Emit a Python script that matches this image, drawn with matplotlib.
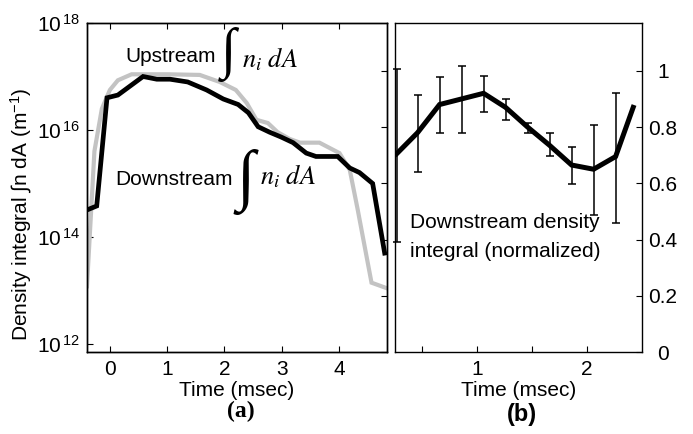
import matplotlib
matplotlib.use("Agg")
import matplotlib.pyplot as plt
import numpy as np

plt.rcParams["font.family"] = ["Liberation Sans", "DejaVu Sans"]
plt.rcParams["mathtext.fontset"] = "custom"
plt.rcParams["mathtext.rm"] = "Liberation Sans"
plt.rcParams["mathtext.it"] = "Liberation Sans:italic"
plt.rcParams["font.size"] = 15

# (a) density integrals vs time, upstream and downstream probes
t_down = [-0.40, -0.23, -0.05, 0.14, 0.58, 0.82, 1.05, 1.36, 1.69, 1.98, 2.24, 2.42,
          2.59, 2.79, 2.99, 3.20, 3.43, 3.60, 3.98, 4.19, 4.36, 4.59, 4.80]
n_down = [3.2e14, 3.8e14, 4.0e16, 4.5e16, 1.0e17, 8.9e16, 8.9e16, 7.9e16, 5.6e16, 3.8e16,
          3.0e16, 2.1e16, 1.15e16, 9.1e15, 7.4e15, 5.8e15, 3.7e15, 3.2e15, 3.2e15, 1.95e15,
          1.6e15, 1.0e15, 5.0e13]
t_up = [-0.40, -0.27, -0.14, 0.00, 0.14, 0.38, 0.58, 1.00, 1.57, 1.92, 2.20, 2.39,
        2.56, 2.76, 2.93, 3.14, 3.32, 3.66, 4.01, 4.19, 4.33, 4.57, 4.84]
n_up = [1.2e13, 4.0e15, 2.5e16, 5.6e16, 8.5e16, 1.1e17, 1.1e17, 1.1e17, 1.07e17, 7.9e16,
        5.6e16, 3.2e16, 1.55e16, 1.35e16, 9.1e15, 6.8e15, 5.8e15, 5.8e15, 3.7e15, 1.8e15,
        3.2e14, 1.4e13, 1.1e13]

# (b) normalized downstream integral with spread
t_norm = [0.27, 0.46, 0.66, 0.86, 1.06, 1.26, 1.46, 1.66, 1.86, 2.06, 2.26, 2.42]
n_norm = [0.705, 0.78, 0.88, 0.90, 0.92, 0.87, 0.80, 0.735, 0.665, 0.65, 0.695, 0.87]
n_norm_hi = [1.007, 0.915, 0.979, 1.018, 0.982, 0.900, 0.815, 0.779, 0.730, 0.808, 0.922]
n_norm_lo = [0.391, 0.640, 0.779, 0.779, 0.854, 0.826, 0.779, 0.698, 0.598, 0.488, 0.459]

fig = plt.figure(figsize=(6.93, 4.34), dpi=100)
ax_a = fig.add_axes([0.1255, 0.1889, 0.4329, 0.7581])
ax_b = fig.add_axes([0.570, 0.1889, 0.3564, 0.7581])

# ---- panel (a)
ax_a.plot(t_up, n_up, color="#c3c3c3", lw=3.0, solid_joinstyle="miter")
ax_a.plot(t_down, n_down, color="black", lw=3.4, solid_joinstyle="miter")
ax_a.set_yscale("log")
ax_a.set_xlim(-0.40, 4.84)
ax_a.set_ylim(10 ** 11.85, 1e18)
ax_a.set_yticks([1e12, 1e14, 1e16, 1e18])
ax_a.set_yticklabels([r"$10^{\,12}$", r"$10^{\,14}$", r"$10^{\,16}$", r"$10^{\,18}$"])
ax_a.yaxis.set_minor_locator(matplotlib.ticker.NullLocator())
ax_a.set_xticks([0, 1, 2, 3, 4])
ax_a.tick_params(direction="in", top=True, right=False, length=4, width=0.8, pad=5)
ax_a.tick_params(axis="x", pad=6)
ax_a.set_xlabel("Time (msec)", labelpad=1)
ax_a.set_ylabel(r"Density integral ∫n dA (m$^{-1}$)")
ax_a.yaxis.set_label_coords(-0.175, 0.42)

# right-hand ticks of (a) follow the linear 0..1 scale of (b)
ax_a2 = ax_a.twinx()
ax_a2.set_ylim(0, 1.17)
ax_a2.set_yticks(np.arange(0, 1.01, 0.2))
ax_a2.tick_params(direction="in", length=4, width=0.8, labelright=False)

for ax in (ax_a, ax_a2):
    for s in ax.spines.values():
        s.set_linewidth(1.0)

# in-plot labels: sans name + tall serif integral + italic serif symbols
ax_a.text(0.127, 0.881, "Upstream", transform=ax_a.transAxes, fontsize=15, va="baseline")
ax_a.text(0.473, 0.903, "∫", transform=ax_a.transAxes, fontsize=40,
          family=["Liberation Serif", "DejaVu Serif"], ha="center", va="center")
ax_a.text(0.517, 0.866, r"$n_i\ dA$", transform=ax_a.transAxes, fontsize=19,
          va="baseline", math_fontfamily="stix")

ax_a.text(0.093, 0.508, "Downstream", transform=ax_a.transAxes, fontsize=15, va="baseline")
ax_a.text(0.530, 0.517, "∫", transform=ax_a.transAxes, fontsize=48,
          family=["Liberation Serif", "DejaVu Serif"], ha="center", va="center")
ax_a.text(0.577, 0.508, r"$n_i\ dA$", transform=ax_a.transAxes, fontsize=19,
          va="baseline", math_fontfamily="stix")

fig.text(0.348, 0.052, "(a)", fontsize=17, family="Liberation Serif", weight="bold",
         ha="center", va="center")

# ---- panel (b)
n_bars = len(n_norm_hi)
ax_b.errorbar(t_norm[:n_bars], n_norm[:n_bars],
              yerr=[np.subtract(n_norm[:n_bars], n_norm_lo),
                    np.subtract(n_norm_hi, n_norm[:n_bars])],
              fmt="none", ecolor="black", elinewidth=1.1, capsize=3, capthick=1.1,
              clip_on=False)
ax_b.plot(t_norm, n_norm, color="black", lw=3.6, solid_joinstyle="miter")
ax_b.set_xlim(0.255, 2.5)
ax_b.set_ylim(0, 1.17)
ax_b.set_xticks([0.5, 1, 1.5, 2])
ax_b.set_xticklabels(["", "1", "", "2"])
ax_b.set_yticks(np.arange(0, 1.01, 0.2))
ax_b.set_yticklabels(["0", "0.2", "0.4", "0.6", "0.8", "1"])
ax_b.yaxis.tick_right()
ax_b.tick_params(direction="in", length=4, width=0.8)
ax_b.tick_params(axis="x", pad=6)
ax_b.tick_params(axis="y", pad=15)
for lbl in ax_b.get_yticklabels():
    lbl.set_horizontalalignment("center")
ax_b.set_xlabel("Time (msec)", labelpad=1)
for s in ax_b.spines.values():
    s.set_linewidth(1.0)

ax_b.text(0.061, 0.377, "Downstream density", transform=ax_b.transAxes, fontsize=15,
          va="baseline")
ax_b.text(0.061, 0.289, "integral (normalized)", transform=ax_b.transAxes, fontsize=15,
          va="baseline")

fig.text(0.753, 0.046, "(b)", fontsize=17, weight="bold", ha="center", va="center")

fig.savefig("out.png", dpi=100)
